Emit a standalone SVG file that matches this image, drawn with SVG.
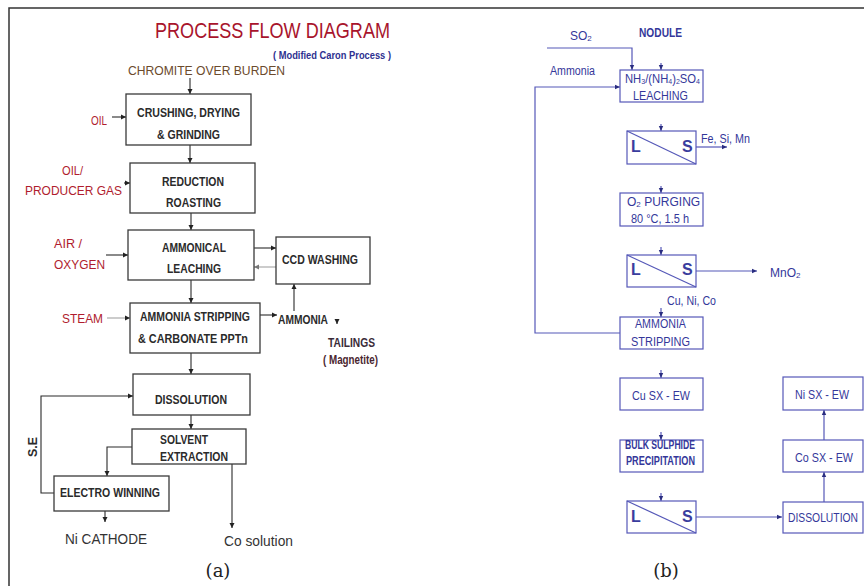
<svg xmlns="http://www.w3.org/2000/svg" width="864" height="586" viewBox="0 0 864 586">
<defs>
<marker id="ak" markerWidth="6" markerHeight="6" refX="5" refY="3" orient="auto" markerUnits="userSpaceOnUse"><path d="M0,0.5 L5,3 L0,5.5 Z" fill="#222"/></marker>
<marker id="ag" markerWidth="6" markerHeight="6" refX="5" refY="3" orient="auto" markerUnits="userSpaceOnUse"><path d="M0,0.5 L5,3 L0,5.5 Z" fill="#777"/></marker>
<marker id="ab" markerWidth="6" markerHeight="6" refX="5" refY="3" orient="auto" markerUnits="userSpaceOnUse"><path d="M0,0.8 L5,3 L0,5.2 Z" fill="#2a2d80"/></marker>
</defs>
<style>
.frame{fill:none;stroke:#333;stroke-width:1.5}
.box{fill:#fff;stroke:#3a3a3a;stroke-width:1.3}
.ln{fill:none;stroke:#2a2a2a;stroke-width:1.1}
.lg{fill:none;stroke:#999;stroke-width:1}
.lt{font-family:"Liberation Sans",Arial,sans-serif;font-weight:bold;font-size:12px;fill:#2b2b2b}
.red{font-family:"Liberation Sans",Arial,sans-serif;font-size:13px;fill:#b01c2e}
.plain{font-family:"Liberation Sans",Arial,sans-serif;font-size:15px;fill:#333}
.cap{font-family:"DejaVu Serif","Liberation Serif",serif;font-size:18px;fill:#222}
.bbox{fill:#fff;stroke:#5558b8;stroke-width:1.2}
.bl{fill:none;stroke:#5558b8;stroke-width:1.2}
.bt{font-family:"Liberation Sans",Arial,sans-serif;font-size:12px;fill:#34379a}
.bls{font-family:"Liberation Sans",Arial,sans-serif;font-size:16px;fill:#3a3d9e;font-weight:bold}
</style>
<rect width="864" height="586" fill="#fff"/>
<path class="frame" d="M9,586 V8 H864"/>

<!-- Panel (a) -->
<text x="155" y="38" font-family="Liberation Sans,Arial,sans-serif" font-size="22" fill="#a8142c" textLength="235" lengthAdjust="spacingAndGlyphs">PROCESS FLOW DIAGRAM</text>
<text x="273" y="59" font-family="Liberation Sans,Arial,sans-serif" font-size="10.5" font-weight="bold" fill="#2e3190" textLength="118" lengthAdjust="spacingAndGlyphs">( Modified Caron Process )</text>
<text x="128" y="75" font-family="Liberation Sans,Arial,sans-serif" font-size="13" fill="#6b4a2c" textLength="157" lengthAdjust="spacingAndGlyphs">CHROMITE OVER BURDEN</text>

<g id="connectors-a">
<line class="ln" x1="190" y1="78" x2="190" y2="94" marker-end="url(#ak)"/>
<line class="ln" x1="112" y1="117" x2="126" y2="117" marker-end="url(#ak)"/>
<line class="ln" x1="190" y1="145" x2="190" y2="163" marker-end="url(#ak)"/>
<line class="ln" x1="124" y1="183" x2="130" y2="183" marker-end="url(#ak)"/>
<line class="ln" x1="191" y1="213" x2="191" y2="230" marker-end="url(#ak)"/>
<line class="ln" x1="106" y1="255" x2="128" y2="255" marker-end="url(#ak)"/>
<line class="ln" x1="254" y1="248" x2="276" y2="248" marker-end="url(#ak)"/>
<line class="lg" x1="276" y1="267" x2="254" y2="267" marker-end="url(#ag)"/>
<line class="ln" x1="294" y1="311" x2="294" y2="284" marker-end="url(#ak)"/>
<line class="ln" x1="191" y1="280" x2="191" y2="303" marker-end="url(#ak)"/>
<line class="lg" x1="107" y1="318" x2="130" y2="318" marker-end="url(#ak)"/>
<line class="ln" x1="260" y1="315" x2="277" y2="315" marker-end="url(#ak)"/>
<line class="ln" x1="337" y1="320" x2="337" y2="324" marker-end="url(#ak)"/>
<line class="ln" x1="191" y1="353" x2="191" y2="374" marker-end="url(#ak)"/>
<line class="ln" x1="191" y1="415" x2="191" y2="429" marker-end="url(#ak)"/>
<path class="ln" d="M54,493 H41 V396 H133" marker-end="url(#ak)"/>
<path class="ln" d="M132,447 H107 V476" marker-end="url(#ak)"/>
<line class="ln" x1="105" y1="511" x2="105" y2="522" marker-end="url(#ak)"/>
<line class="ln" x1="232" y1="464" x2="232" y2="528" marker-end="url(#ak)"/>
</g>

<g id="crushing"><rect class="box" x="126" y="94" width="125" height="51"/>
<text class="lt" x="137" y="117" textLength="103" lengthAdjust="spacingAndGlyphs">CRUSHING, DRYING</text>
<text class="lt" x="157" y="139" textLength="63" lengthAdjust="spacingAndGlyphs">&amp; GRINDING</text></g>
<g id="oil"><text class="red" x="91" y="125" textLength="16" lengthAdjust="spacingAndGlyphs">OIL</text></g>

<g id="reduction"><rect class="box" x="130" y="163" width="125" height="50"/>
<text class="lt" x="162" y="186" textLength="62" lengthAdjust="spacingAndGlyphs">REDUCTION</text>
<text class="lt" x="166" y="207" textLength="55" lengthAdjust="spacingAndGlyphs">ROASTING</text></g>
<g id="producer-gas"><text class="red" x="62" y="175" textLength="21" lengthAdjust="spacingAndGlyphs">OIL/</text>
<text class="red" x="25" y="195" textLength="97" lengthAdjust="spacingAndGlyphs">PRODUCER GAS</text></g>

<g id="leaching"><rect class="box" x="128" y="230" width="126" height="50"/>
<text class="lt" x="162" y="252" textLength="64" lengthAdjust="spacingAndGlyphs">AMMONICAL</text>
<text class="lt" x="167" y="273" textLength="54" lengthAdjust="spacingAndGlyphs">LEACHING</text></g>
<g id="air"><text class="red" x="54" y="248" textLength="28" lengthAdjust="spacingAndGlyphs">AIR /</text>
<text class="red" x="54" y="269" textLength="51" lengthAdjust="spacingAndGlyphs">OXYGEN</text></g>

<g id="ccd"><rect class="box" x="276" y="237" width="94" height="47"/>
<text class="lt" x="282" y="264" textLength="76" lengthAdjust="spacingAndGlyphs">CCD WASHING</text></g>

<g id="stripping"><rect class="box" x="130" y="303" width="130" height="50"/>
<text class="lt" x="140" y="321" textLength="110" lengthAdjust="spacingAndGlyphs">AMMONIA STRIPPING</text>
<text class="lt" x="138" y="343" textLength="110" lengthAdjust="spacingAndGlyphs">&amp; CARBONATE PPTn</text></g>
<g id="steam"><text class="red" x="62" y="323" textLength="41" lengthAdjust="spacingAndGlyphs">STEAM</text></g>
<g id="ammonia-a"><text class="lt" x="278" y="324" textLength="50" lengthAdjust="spacingAndGlyphs">AMMONIA</text></g>
<g id="tailings"><text x="328" y="347" font-family="Liberation Sans,Arial,sans-serif" font-size="12" font-weight="bold" fill="#3a2b38" textLength="47" lengthAdjust="spacingAndGlyphs">TAILINGS</text>
<text x="323" y="364" font-family="Liberation Sans,Arial,sans-serif" font-size="12" font-weight="bold" fill="#4a2630" textLength="55" lengthAdjust="spacingAndGlyphs">( Magnetite)</text></g>

<g id="dissolution-a"><rect class="box" x="133" y="374" width="117" height="41"/>
<text class="lt" x="155" y="404" textLength="72" lengthAdjust="spacingAndGlyphs">DISSOLUTION</text></g>

<g id="solvent"><rect class="box" x="132" y="429" width="114" height="35"/>
<text class="lt" x="160" y="444" textLength="48" lengthAdjust="spacingAndGlyphs">SOLVENT</text>
<text class="lt" x="160" y="461" textLength="68" lengthAdjust="spacingAndGlyphs">EXTRACTION</text></g>

<g id="electrowinning"><rect class="box" x="54" y="476" width="115" height="35"/>
<text class="lt" x="60" y="497" textLength="100" lengthAdjust="spacingAndGlyphs">ELECTRO WINNING</text></g>

<g id="se-label"><text class="lt" transform="translate(37,457) rotate(-90)" x="0" y="0" font-size="11" textLength="20" lengthAdjust="spacingAndGlyphs">S.E</text></g>
<g id="ni-cathode"><text class="plain" x="65" y="544" textLength="82" lengthAdjust="spacingAndGlyphs">Ni CATHODE</text></g>
<g id="co-solution"><text class="plain" x="224" y="546" textLength="69" lengthAdjust="spacingAndGlyphs">Co solution</text></g>
<text class="cap" x="218" y="577" text-anchor="middle">(a)</text>

<!-- Panel (b) -->
<g id="connectors-b">
<path class="bl" d="M547,48 H632 V70" marker-end="url(#ab)"/>
<line class="bl" x1="661" y1="63" x2="661" y2="70" marker-end="url(#ab)"/>
<path class="bl" d="M620,333 H535 V87 H620" marker-end="url(#ab)"/>
<line class="bl" x1="661" y1="124" x2="661" y2="131" marker-end="url(#ab)"/>
<line class="bl" x1="696" y1="147" x2="727" y2="147" marker-end="url(#ab)"/>
<line class="bl" x1="661" y1="186" x2="661" y2="193" marker-end="url(#ab)"/>
<line class="bl" x1="661" y1="247" x2="661" y2="255" marker-end="url(#ab)"/>
<line class="bl" x1="696" y1="271" x2="757" y2="271" marker-end="url(#ab)"/>
<line class="bl" x1="661" y1="308" x2="661" y2="317" marker-end="url(#ab)"/>
<line class="bl" x1="661" y1="370" x2="661" y2="378" marker-end="url(#ab)"/>
<line class="bl" x1="661" y1="432" x2="661" y2="440" marker-end="url(#ab)"/>
<line class="bl" x1="661" y1="493" x2="661" y2="501" marker-end="url(#ab)"/>
<line class="bl" x1="696" y1="517" x2="782" y2="517" marker-end="url(#ab)"/>
<line class="bl" x1="824" y1="502" x2="824" y2="472" marker-end="url(#ab)"/>
<line class="bl" x1="824" y1="440" x2="824" y2="410" marker-end="url(#ab)"/>
</g>

<g id="so2"><text class="bt" x="570" y="40" font-size="12.5">SO<tspan font-size="8" dy="1">2</tspan></text></g>
<g id="nodule"><text class="bt" x="639" y="37" font-weight="bold" textLength="43" lengthAdjust="spacingAndGlyphs">NODULE</text></g>
<g id="ammonia-b"><text class="bt" x="550" y="75" textLength="45" lengthAdjust="spacingAndGlyphs">Ammonia</text></g>

<g id="leaching-b"><rect class="bbox" x="620" y="70" width="83" height="32"/>
<text class="bt" x="625" y="83" font-size="11.5" textLength="75" lengthAdjust="spacingAndGlyphs">NH<tspan font-size="7.5" dy="1">3</tspan><tspan dy="-1">/(NH</tspan><tspan font-size="7.5" dy="1">4</tspan><tspan dy="-1">)</tspan><tspan font-size="7.5" dy="1">2</tspan><tspan dy="-1">SO</tspan><tspan font-size="7.5" dy="1">4</tspan></text>
<text class="bt" x="633" y="100" font-size="13" textLength="55" lengthAdjust="spacingAndGlyphs">LEACHING</text></g>

<g id="ls1"><rect class="bbox" x="627" y="131" width="69" height="33"/><line class="bl" x1="627" y1="131" x2="696" y2="164"/>
<text class="bls" x="631" y="152">L</text><text class="bls" x="682" y="152">S</text></g>
<g id="fesimn"><text class="bt" x="701" y="143" textLength="49" lengthAdjust="spacingAndGlyphs">Fe, Si, Mn</text></g>

<g id="purging"><rect class="bbox" x="620" y="193" width="83" height="33"/>
<text class="bt" x="627" y="206" font-size="12.5">O<tspan font-size="8" dy="1">2</tspan><tspan dy="-1"> PURGING</tspan></text>
<text class="bt" x="631" y="223" font-size="12.5" textLength="58" lengthAdjust="spacingAndGlyphs">80 °C, 1.5 h</text></g>

<g id="ls2"><rect class="bbox" x="627" y="255" width="69" height="32"/><line class="bl" x1="627" y1="255" x2="696" y2="287"/>
<text class="bls" x="631" y="275">L</text><text class="bls" x="682" y="275">S</text></g>
<g id="mno2"><text class="bt" x="770" y="277">MnO<tspan font-size="8" dy="1">2</tspan></text></g>
<g id="cunico"><text class="bt" x="667" y="305" textLength="49" lengthAdjust="spacingAndGlyphs">Cu, Ni, Co</text></g>

<g id="stripping-b"><rect class="bbox" x="620" y="317" width="83" height="32"/>
<text class="bt" x="635" y="328" font-size="13" textLength="51" lengthAdjust="spacingAndGlyphs">AMMONIA</text>
<text class="bt" x="631" y="346" font-size="13" textLength="59" lengthAdjust="spacingAndGlyphs">STRIPPING</text></g>

<g id="cusx"><rect class="bbox" x="620" y="378" width="83" height="32"/>
<text class="bt" x="632" y="400" font-size="13" textLength="58" lengthAdjust="spacingAndGlyphs">Cu SX - EW</text></g>

<g id="bulk"><rect class="bbox" x="620" y="440" width="83" height="32"/>
<text class="bt" x="625" y="449" font-size="10" font-weight="bold" textLength="70" lengthAdjust="spacingAndGlyphs">BULK SULPHIDE</text>
<text class="bt" x="626" y="465" font-size="10" font-weight="bold" textLength="69" lengthAdjust="spacingAndGlyphs">PRECIPITATION</text></g>

<g id="ls3"><rect class="bbox" x="627" y="501" width="69" height="32"/><line class="bl" x1="627" y1="501" x2="696" y2="533"/>
<text class="bls" x="631" y="522">L</text><text class="bls" x="682" y="522">S</text></g>

<g id="dissolution-b"><rect class="bbox" x="783" y="502" width="80" height="31"/>
<text class="bt" x="823" y="522" font-size="10.5" text-anchor="middle" textLength="70" lengthAdjust="spacingAndGlyphs">DISSOLUTION</text></g>
<g id="cosx"><rect class="bbox" x="783" y="440" width="80" height="32"/>
<text class="bt" x="795" y="462" font-size="13" textLength="58" lengthAdjust="spacingAndGlyphs">Co SX - EW</text></g>
<g id="nisx"><rect class="bbox" x="783" y="377" width="80" height="33"/>
<text class="bt" x="795" y="399" font-size="13" textLength="54" lengthAdjust="spacingAndGlyphs">Ni SX - EW</text></g>

<text class="cap" x="666" y="577" text-anchor="middle">(b)</text>
</svg>
